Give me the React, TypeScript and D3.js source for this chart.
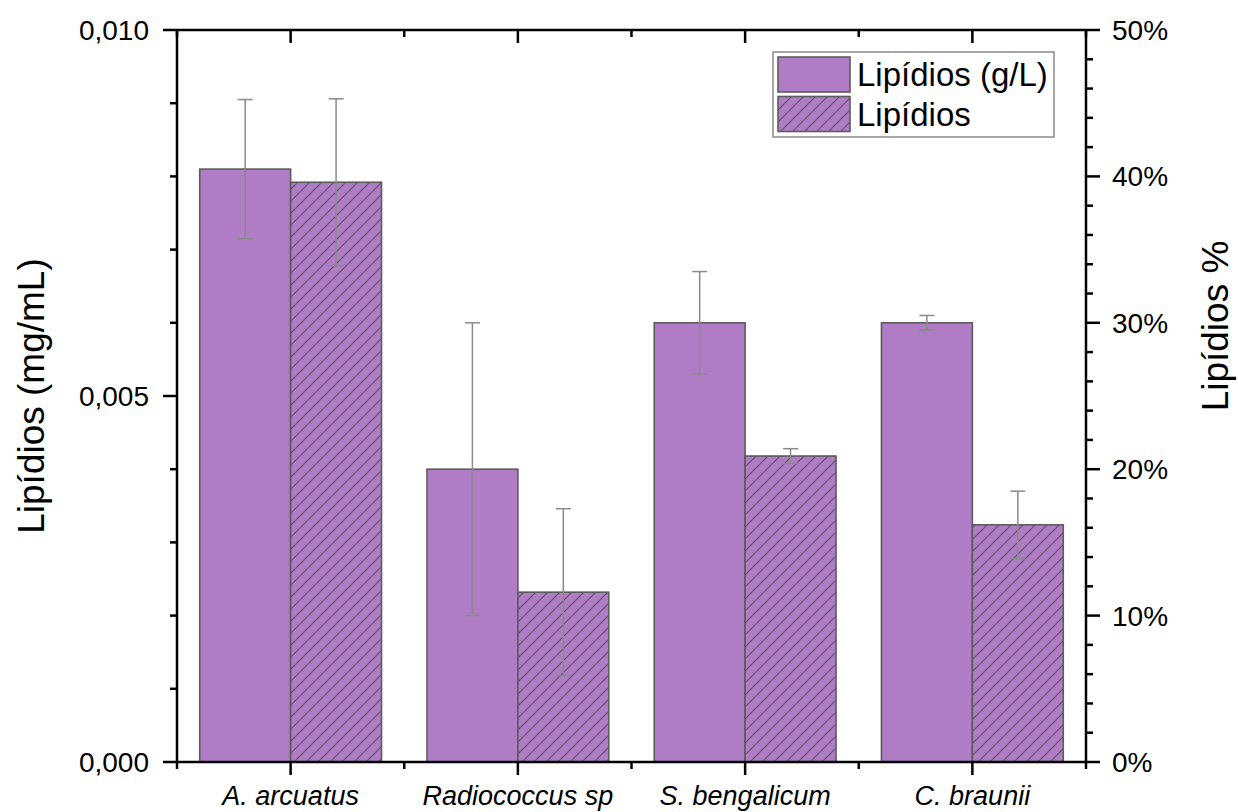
import React from "react";
import * as d3 from "d3";

const categories = ["A. arcuatus", "Radiococcus sp", "S. bengalicum", "C. braunii"];
const lipidMgMl = [0.0081, 0.004, 0.006, 0.006];
const lipidMgMlErr = [0.00095, 0.002, 0.0007, 0.0001];
const lipidPct = [39.6, 11.6, 20.9, 16.2];
const lipidPctErr = [5.7, 5.7, 0.5, 2.3];
const leftTicks = [0, 0.005, 0.01];
const leftMinor = [0.001, 0.002, 0.003, 0.004, 0.006, 0.007, 0.008, 0.009];
const rightTicks = [0, 10, 20, 30, 40, 50];
const rightMinor = [2, 4, 6, 8, 12, 14, 16, 18, 22, 24, 26, 28, 32, 34, 36, 38, 42, 44, 46, 48];
const legendLabels = ["Lipídios (g/L)", "Lipídios"];

const W = 1238, H = 812;
const L = 177, R = 1086, T = 30, B = 762;
const FONT = "'Liberation Sans', Arial, sans-serif";
const FILL = "#B07CC6";
const EDGE = "#5c5c5c";
const ERR = "#8a8a8a";

export default function App() {
  const x = d3.scaleLinear().domain([0, categories.length]).range([L, R]);
  const yL = d3.scaleLinear().domain([0, 0.01]).range([B, T]);
  const yR = d3.scaleLinear().domain([0, 50]).range([B, T]);
  const bw = 0.4;
  const fmtL = (v: number) => d3.format(".3f")(v).replace(".", ",");
  const majorX = categories.map((_, i) => i + 0.5);
  const minorX = d3.range(0, categories.length + 1);

  return (
    <svg width={W} height={H} style={{ position: "absolute", left: 0, top: 0, background: "#fff" }} fontFamily={FONT}>
      <defs>
        <pattern id="hatch" patternUnits="userSpaceOnUse" width={12} height={12}>
          <rect width={12} height={12} fill={FILL} />
          <path d="M-3,3 L3,-3 M0,12 L12,0 M9,15 L15,9" stroke="#555" strokeWidth={1.1} />
        </pattern>
      </defs>
      <rect width={W} height={H} fill="#fff" />

      {/* bars */}
      {categories.map((c, i) => {
        const x0 = x(i + 0.5 - bw), x1 = x(i + 0.5), x2 = x(i + 0.5 + bw);
        return (
          <g key={c}>
            <rect x={x0} y={yL(lipidMgMl[i])} width={x1 - x0} height={B - yL(lipidMgMl[i])} fill={FILL} stroke={EDGE} strokeWidth={1.6} />
            <rect x={x1} y={yR(lipidPct[i])} width={x2 - x1} height={B - yR(lipidPct[i])} fill="url(#hatch)" stroke={EDGE} strokeWidth={1.6} />
          </g>
        );
      })}

      {/* error bars */}
      {categories.map((c, i) => {
        const xa = x(i + 0.5 - bw / 2), xb = x(i + 0.5 + bw / 2);
        const a0 = yL(lipidMgMl[i] - lipidMgMlErr[i]), a1 = yL(lipidMgMl[i] + lipidMgMlErr[i]);
        const b0 = yR(lipidPct[i] - lipidPctErr[i]), b1 = yR(lipidPct[i] + lipidPctErr[i]);
        const cw = 7.5;
        return (
          <g key={"e" + c} stroke={ERR} strokeWidth={1.5}>
            <line x1={xa} x2={xa} y1={a0} y2={a1} />
            <line x1={xa - cw} x2={xa + cw} y1={a0} y2={a0} />
            <line x1={xa - cw} x2={xa + cw} y1={a1} y2={a1} />
            <line x1={xb} x2={xb} y1={b0} y2={b1} />
            <line x1={xb - cw} x2={xb + cw} y1={b0} y2={b0} />
            <line x1={xb - cw} x2={xb + cw} y1={b1} y2={b1} />
          </g>
        );
      })}

      {/* frame */}
      <g stroke="#000" strokeWidth={2.5} fill="none">
        <line x1={L} x2={R} y1={B} y2={B} />
        <line x1={L} x2={R} y1={T} y2={T} />
        <line x1={L} x2={L} y1={T} y2={B} />
        <line x1={R} x2={R} y1={T} y2={B} />
        {/* left ticks */}
        {leftTicks.map((v) => <line key={"lt" + v} x1={L - 14} x2={L} y1={yL(v)} y2={yL(v)} />)}
        {leftMinor.map((v) => <line key={"lm" + v} x1={L - 7} x2={L} y1={yL(v)} y2={yL(v)} />)}
        {/* right ticks */}
        {rightTicks.map((v) => <line key={"rt" + v} x1={R} x2={R + 14} y1={yR(v)} y2={yR(v)} />)}
        {rightMinor.map((v) => <line key={"rm" + v} x1={R} x2={R + 7} y1={yR(v)} y2={yR(v)} />)}
        {/* bottom ticks */}
        {majorX.map((v) => <line key={"bt" + v} x1={x(v)} x2={x(v)} y1={B} y2={B + 13} />)}
        {minorX.map((v) => <line key={"bm" + v} x1={x(v)} x2={x(v)} y1={B} y2={B + 7} />)}
        {/* top ticks (inward) */}
        {majorX.map((v) => <line key={"tt" + v} x1={x(v)} x2={x(v)} y1={T} y2={T + 13} />)}
        {minorX.map((v) => <line key={"tm" + v} x1={x(v)} x2={x(v)} y1={T} y2={T + 7} />)}
      </g>

      {/* tick labels */}
      {leftTicks.map((v) => (
        <text key={"ll" + v} x={L - 28} y={yL(v)} dy="0.36em" textAnchor="end" fontSize={28} fill="#000">{fmtL(v)}</text>
      ))}
      {rightTicks.map((v) => (
        <text key={"rl" + v} x={R + 26} y={yR(v)} dy="0.36em" textAnchor="start" fontSize={28} fill="#000">{v + "%"}</text>
      ))}
      {categories.map((c, i) => (
        <text key={"cl" + c} x={x(i + 0.5)} y={805} textAnchor="middle" fontSize={27} fontStyle="italic" fill="#000">{c}</text>
      ))}

      {/* axis titles */}
      <text transform={`translate(44,${(T + B) / 2}) rotate(-90)`} textAnchor="middle" fontSize={37} fill="#000">Lipídios (mg/mL)</text>
      <text transform={`translate(1228,326) rotate(-90)`} textAnchor="middle" fontSize={37} fill="#000">Lipídios %</text>

      {/* legend */}
      <g>
        <rect x={773} y={52} width={281} height={85} fill="#fff" stroke="#8a8a8a" strokeWidth={1.5} />
        <rect x={778} y={57} width={72} height={35} fill={FILL} stroke={EDGE} strokeWidth={1.6} />
        <rect x={778} y={96.5} width={72} height={35} fill="url(#hatch)" stroke={EDGE} strokeWidth={1.6} />
        <text x={857} y={74.5} dy="0.36em" fontSize={33} fill="#000">{legendLabels[0]}</text>
        <text x={857} y={114} dy="0.36em" fontSize={33} fill="#000">{legendLabels[1]}</text>
      </g>
    </svg>
  );
}
